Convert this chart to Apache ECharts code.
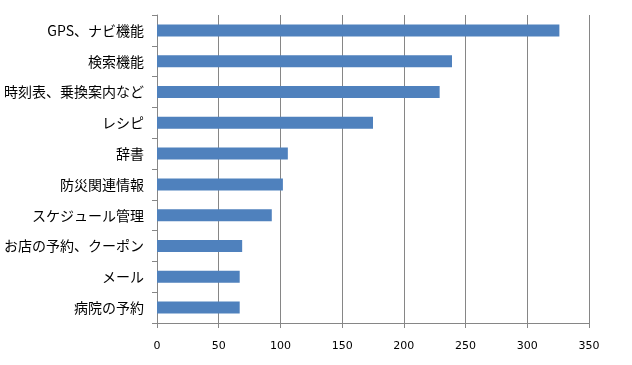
<!DOCTYPE html>
<html>
<head>
<meta charset="utf-8">
<script src="https://cdn.jsdelivr.net/npm/echarts@6/dist/echarts.min.js"></script>
<style>html,body{margin:0;padding:0;background:#fff;}#c{width:632px;height:365px;}</style>
</head>
<body>
<div id="c"></div>
<script>
var categories = ["GPS、ナビ機能","検索機能","時刻表、乗換案内など","レシピ","辞書","防災関連情報","スケジュール管理","お店の予約、クーポン","メール","病院の予約"];
var values = [326, 239, 229, 175, 106, 102, 93, 69, 67, 67];
var xTicks = [0, 50, 100, 150, 200, 250, 300, 350];

var chart = echarts.init(document.getElementById('c'));
chart.setOption({
  animation: false,
  grid: {left: 157, right: 43, top: 15, bottom: 42},
  xAxis: {
    type: 'value', min: xTicks[0], max: xTicks[xTicks.length-1], interval: 50,
    axisLine: {show: true, lineStyle: {color: '#868686', width: 1}},
    axisTick: {show: true, length: 5, lineStyle: {color: '#868686'}},
    axisLabel: {color: '#000', fontFamily: 'DejaVu Sans', fontSize: 11, margin: 18},
    splitLine: {show: true, lineStyle: {color: '#868686', width: 1}}
  },
  yAxis: {
    type: 'category', data: categories, inverse: true,
    axisLine: {show: true, lineStyle: {color: '#868686', width: 1}},
    axisTick: {show: true, length: 5, lineStyle: {color: '#868686'}},
    axisLabel: {color: '#000', fontFamily: 'Noto Sans CJK JP', fontSize: 14, margin: 13},
    splitLine: {show: false}
  },
  series: [{
    type: 'bar', data: values, barWidth: 12,
    itemStyle: {color: '#4F81BD'}
  }]
});
</script>
</body>
</html>
